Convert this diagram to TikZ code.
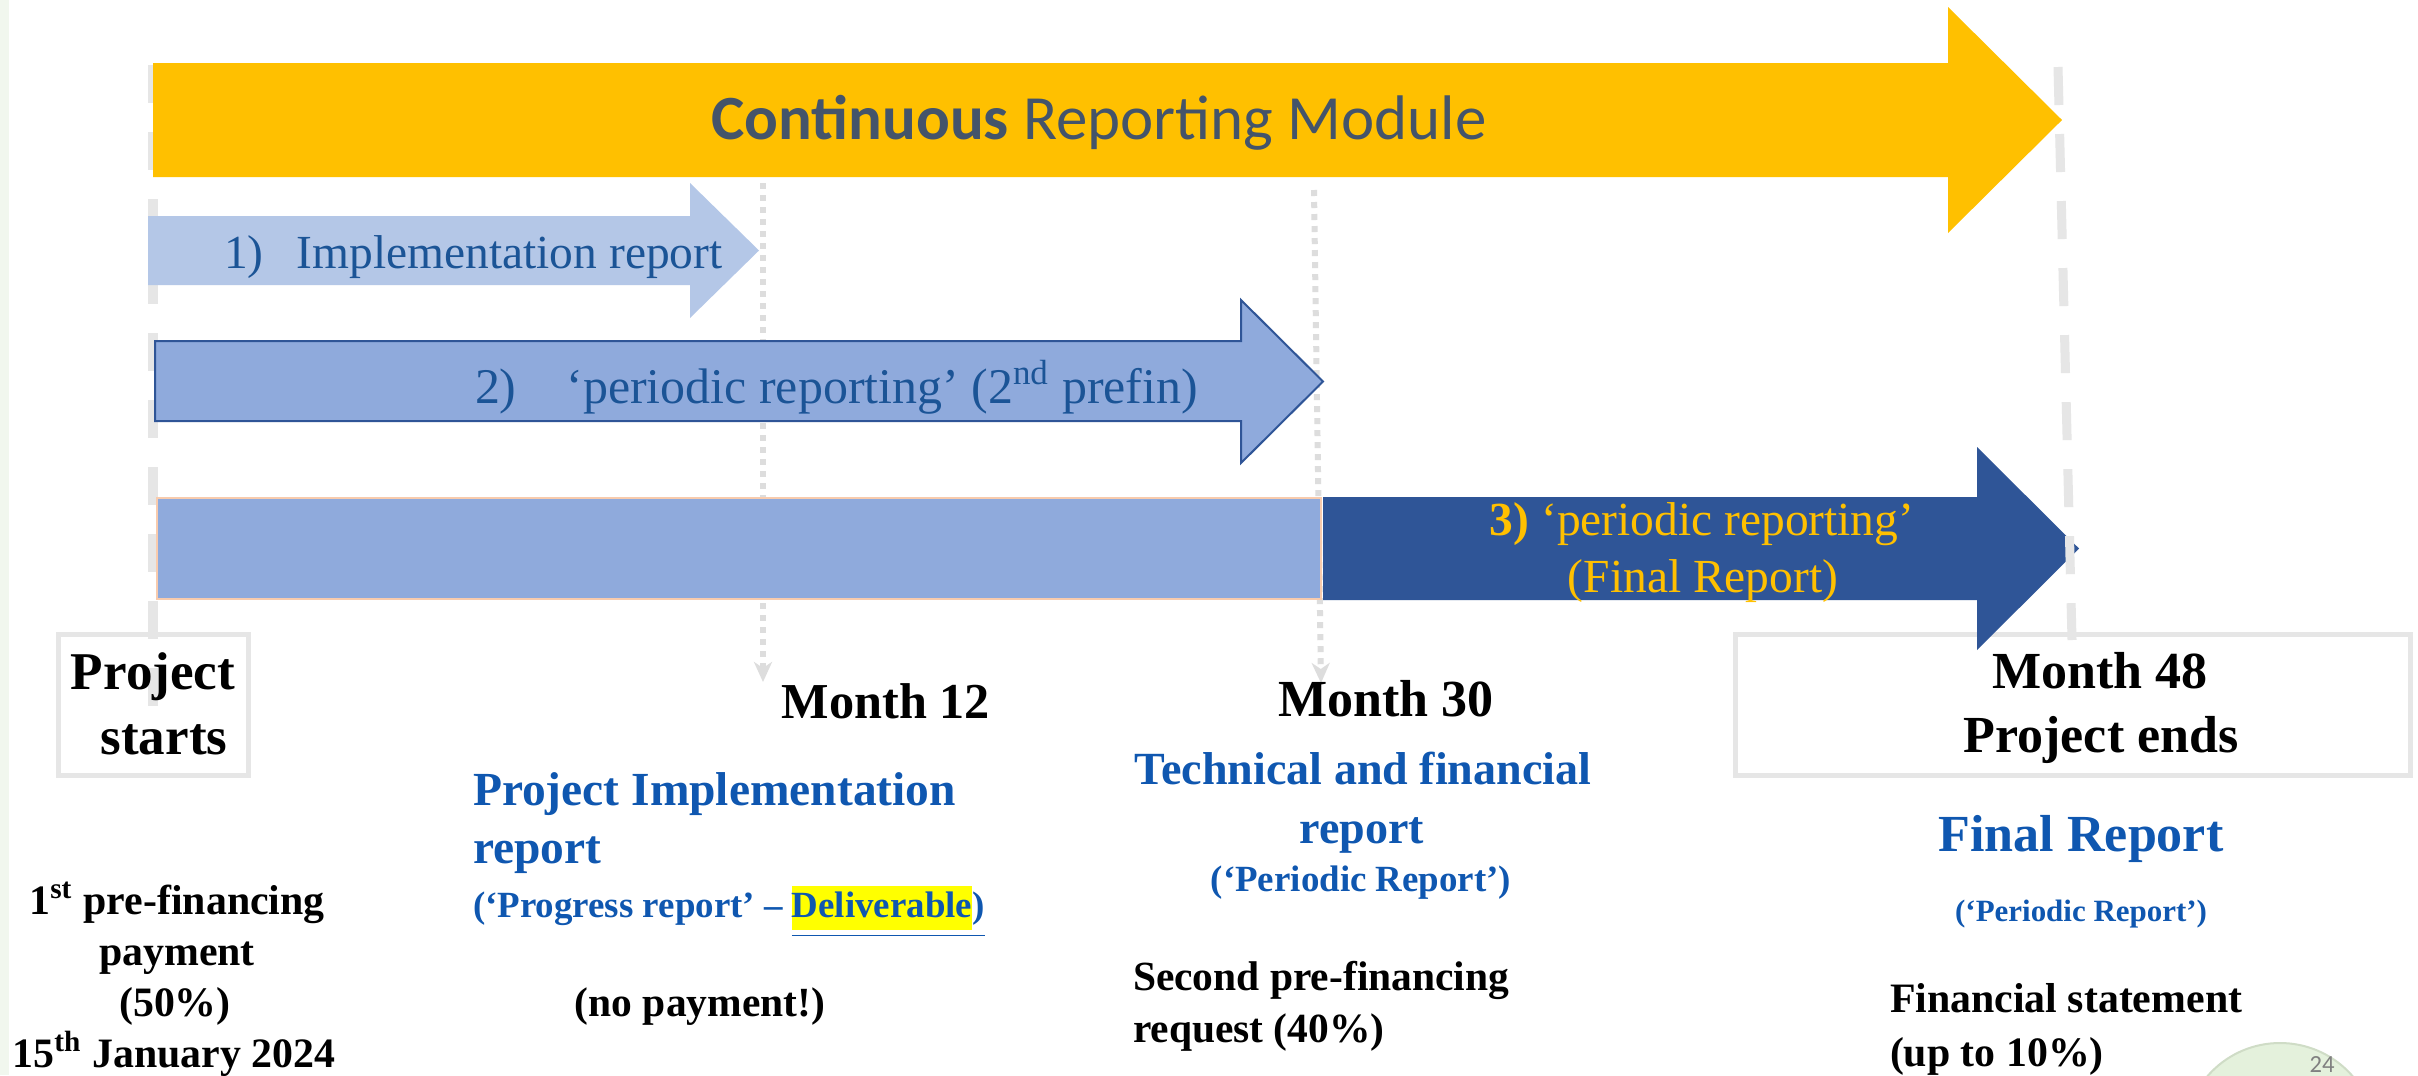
\documentclass[tikz,border=0pt]{standalone}
\usepackage{fontspec}
\setmainfont{Liberation Serif}
\newfontfamily\calibri{Carlito}
\usetikzlibrary{arrows.meta}
\definecolor{gold}{HTML}{FFC000}
\definecolor{titlegray}{HTML}{44546A}
\definecolor{lightblue}{HTML}{B4C7E7}
\definecolor{midblue}{HTML}{8FAADC}
\definecolor{midblueedge}{HTML}{2F5597}
\definecolor{darkblue}{HTML}{2F5597}
\definecolor{peach}{HTML}{F8CBAD}
\definecolor{arrowtext}{HTML}{1B5496}
\definecolor{bluetext}{HTML}{0F57B0}
\definecolor{gridgray}{HTML}{E6E6E6}
\definecolor{dotgray}{HTML}{DDDDDD}
\definecolor{stripgreen}{HTML}{F1F7EE}
\definecolor{logogreen}{HTML}{E4F1DC}
\definecolor{logoedge}{HTML}{CFDCC6}
\definecolor{hlyellow}{HTML}{FFFF00}
\newcommand{\fsz}[1]{\fontsize{#1}{1.2\dimexpr #1\relax}\selectfont}
\begin{document}
\begin{tikzpicture}[x=0.01cm,y=-0.01cm,
  lbl/.style={inner sep=0pt, outer sep=0pt, anchor=base},
  lblw/.style={inner sep=0pt, outer sep=0pt, anchor=base west},
  gridline/.style={draw=gridgray, line width=0.09cm, dash pattern=on 0.38cm off 0.29cm},
  dotline/.style={draw=dotgray, line width=0.06cm, dash pattern=on 0.06cm off 0.06cm,
    -{Stealth[width=0.18cm,length=0.2cm,inset=0.06cm]}},
  datebox/.style={draw=gridgray, line width=0.05cm, inner sep=0pt},
  blackbold/.style={text=black, font=\bfseries\fsz{#1}},
  bluebold/.style={text=bluetext, font=\bfseries\fsz{#1}}]
\useasboundingbox (0,0) rectangle (2418,1075);
\fill[white] (0,0) rectangle (2418,1075);
\fill[stripgreen] (0,0) rectangle (9,1075);

% guide lines (behind)
\coordinate (L0) at (153,65);
\coordinate (L1) at (153,706);
\draw[gridline] (L0) -- (L1);
\coordinate (m12top) at (763,183);
\coordinate (m12bot) at (763,682);
\draw[dotline] (m12top) -- (m12bot);
\coordinate (m30top) at (1314,190);
\coordinate (m30bot) at (1321,683);
\draw[dotline] (m30top) -- (m30bot);

% boxes
\node (psbox) [datebox, minimum width=1.89cm, minimum height=1.40cm] at (153.5,705) {};
\node (m48box) [datebox, minimum width=6.74cm, minimum height=1.40cm] at (2073,705) {};

% continuous arrow
\fill[gold] (153,63) -- (1948,63) -- (1948,7) -- (2062,120) -- (1948,233) -- (1948,177) -- (153,177) -- cycle;
% arrow 1
\fill[lightblue] (148,216) -- (690,216) -- (690,183) -- (759,250.5) -- (690,318) -- (690,285) -- (148,285) -- cycle;
% arrow 2
\filldraw[fill=midblue, draw=midblueedge, line width=0.02cm] (155,341) -- (1241,341) -- (1241,300) -- (1323,381.5) -- (1241,463) -- (1241,421) -- (155,421) -- cycle;
% bar 3
\filldraw[fill=midblue, draw=peach, line width=0.025cm] (157,498) rectangle (1321,599);
% arrow 3
\fill[darkblue] (1323,497) -- (1977,497) -- (1977,447) -- (2079,548.5) -- (1977,650) -- (1977,600) -- (1323,600) -- cycle;

\coordinate (R0) at (2058,67);
\coordinate (R1) at (2072,640);
\draw[gridline] (R0) -- (R1);

% arrow texts
\node (title) [lbl, text=titlegray, font=\calibri\fsz{17.9pt}] at (1099,139) {\textbf{Continuous} Reporting Module};
\node (a1) [lblw, text=arrowtext, font=\fsz{13.5pt}] at (224,268) {1)\hspace{0.7em}Implementation report};
\node (a2) [lblw, text=arrowtext, font=\fsz{14.2pt}] at (475,403) {2)\hspace{1em}‘periodic reporting’ (2\textsuperscript{nd} prefin)};
\node (a3a) [lbl, text=gold, font=\fsz{13.5pt}] at (1702,535) {\textbf{3)} ‘periodic reporting’};
\node (a3b) [lbl, text=gold, font=\fsz{13.5pt}] at (1703,592) {(Final Report)};

% milestone texts
\node (ps1) [lbl, blackbold=15.1pt] at (153,689) {Project};
\node (ps2) [lbl, blackbold=15.1pt] at (164,754) {starts};
\node (m12) [lbl, blackbold=14.3pt] at (886,718) {Month 12};
\node (m30) [lbl, blackbold=14.8pt] at (1386,716) {Month 30};
\node (m48a) [lbl, blackbold=14.8pt] at (2100,688) {Month 48};
\node (m48b) [lbl, blackbold=14.8pt] at (2101,752) {Project ends};

% column 1
\node (pf1) [lbl, blackbold=11.9pt] at (177,914) {1\textsuperscript{st} pre-financing};
\node (pf2) [lbl, blackbold=11.9pt] at (177,965) {payment};
\node (pf3) [lbl, blackbold=11.9pt] at (175,1016) {(50\%)};
\node (pf4) [lbl, blackbold=11.9pt] at (174,1067) {15\textsuperscript{th} January 2024};

% column 2
\node (pir1) [lblw, bluebold=13.5pt] at (473,805) {Project Implementation};
\node (pir2) [lblw, bluebold=13.5pt] at (473,863) {report};
\node (pir3) [lblw, bluebold=10.5pt] at (473,917) {(‘Progress report’ – \underline{{\setlength{\fboxsep}{0pt}\colorbox{hlyellow}{\strut Deliverable}})}};
\node (nopay) [lbl, blackbold=11.8pt] at (700,1016) {(no payment!)};

% column 3
\node (tf1) [lbl, bluebold=13.1pt] at (1363,784) {Technical and financial};
\node (tf2) [lbl, bluebold=13.1pt] at (1362,843) {report};
\node (tf3) [lbl, bluebold=10.5pt] at (1361,891) {(‘Periodic Report’)};
\node (sp1) [lblw, blackbold=11.8pt] at (1133,990) {Second pre-financing};
\node (sp2) [lblw, blackbold=11.8pt] at (1133,1042) {request (40\%)};

% column 4
\node (fr1) [lbl, bluebold=14.8pt] at (2081,851) {Final Report};
\node (fr2) [lbl, bluebold=8.8pt] at (2081,921) {(‘Periodic Report’)};
\node (fs1) [lblw, blackbold=11.9pt] at (1890,1012) {Financial statement};
\node (fs2) [lblw, blackbold=11.9pt] at (1890,1066) {(up to 10\%)};

% logo fragment
\filldraw[fill=logogreen, draw=logoedge, line width=0.02cm] (2280,1139) circle (96);
\node (logo24) [lbl, text=gray, font=\calibri\fsz{7pt}] at (2322,1072) {24};
\end{tikzpicture}
\end{document}
